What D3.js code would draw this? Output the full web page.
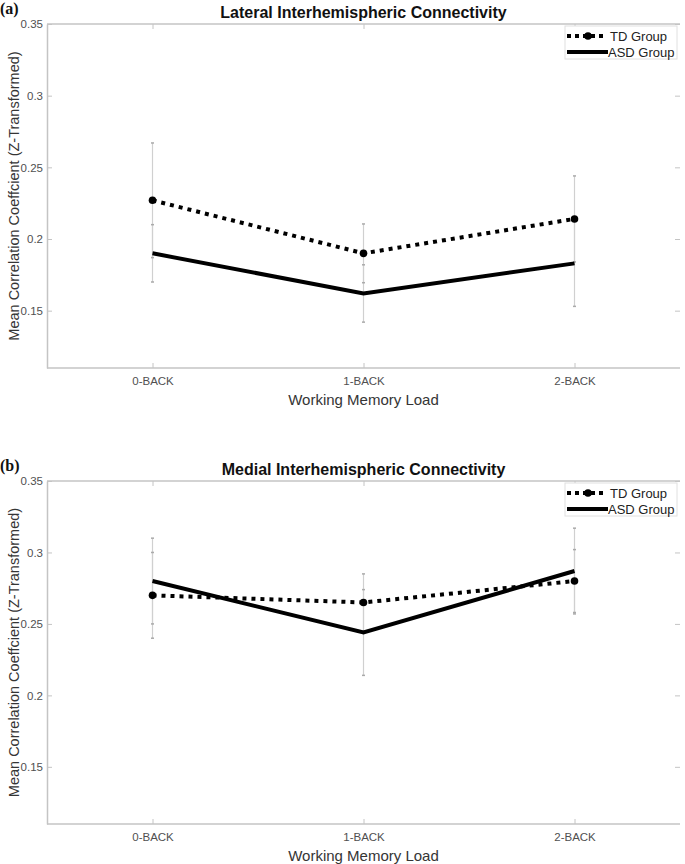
<!DOCTYPE html>
<html><head><meta charset="utf-8">
<script src="https://cdn.jsdelivr.net/npm/d3@7"></script>
<style>body{margin:0;background:#fff;}svg{display:block;font-family:Arial,"Liberation Sans",sans-serif;}</style>
</head><body>
<svg id="chart" width="685" height="864"></svg>
<script>
const categories = ["0-BACK", "1-BACK", "2-BACK"];
const yTicks = [0.15, 0.2, 0.25, 0.3, 0.35];
const yTickLabels = ["0.15", "0.2", "0.25", "0.3", "0.35"];
const seriesNames = ["TD Group", "ASD Group"];
const panelTitles = ["Lateral Interhemispheric Connectivity", "Medial Interhemispheric Connectivity"];
const panelLabels = ["(a)", "(b)"];
const lateralTD = [0.227, 0.190, 0.214];
const lateralTDErr = [0.040, 0.0205, 0.030];
const lateralASD = [0.190, 0.162, 0.183];
const lateralASDErr = [0.020, 0.020, 0.030];
const medialTD = [0.270, 0.265, 0.280];
const medialTDErr = [0.030, 0.020, 0.022];
const medialASD = [0.280, 0.244, 0.287];
const medialASDErr = [0.030, 0.030, 0.030];

const panels = [
  {title: panelTitles[0], label: panelLabels[0], td: lateralTD, tdErr: lateralTDErr, asd: lateralASD, asdErr: lateralASDErr, top: 24, bottom: 368},
  {title: panelTitles[1], label: panelLabels[1], td: medialTD, tdErr: medialTDErr, asd: medialASD, asdErr: medialASDErr, top: 481, bottom: 824}
];

const svg = d3.select("#chart");
const left = 47, right = 680;
const axisCol = "#c4c4c4", tickTextCol = "#505050", labelCol = "#353535";

const x = d3.scalePoint().domain(categories).range([left, right]).padding(0.5);

panels.forEach(p => {
  const y = d3.scaleLinear().domain([0.11, 0.35]).range([p.bottom, p.top]);
  const g = svg.append("g");

  g.append("text").attr("x", 0).attr("y", p.top - 10)
    .attr("font-family", "'Liberation Serif','Times New Roman',serif")
    .attr("font-weight", "bold").attr("font-size", 16).attr("fill", "#111").text(p.label);

  g.append("text").attr("x", (left + right) / 2).attr("y", p.top - 6)
    .attr("text-anchor", "middle").attr("font-weight", "bold").attr("font-size", 16)
    .attr("fill", "#111").text(p.title);

  const yAxis = d3.axisLeft(y).tickValues(yTicks).tickFormat((d, i) => yTickLabels[i]).tickSizeInner(-5).tickSizeOuter(0).tickPadding(4);
  const ya = g.append("g").attr("transform", `translate(${left},0)`).call(yAxis);
  ya.select(".domain").attr("stroke", axisCol).attr("stroke-width", 1.5);
  ya.selectAll(".tick line").attr("stroke", axisCol);
  ya.selectAll(".tick text").attr("fill", tickTextCol).attr("font-size", 11.5).attr("font-family", "Arial,'Liberation Sans',sans-serif");

  const yAxisR = d3.axisRight(y).tickValues(yTicks).tickFormat("").tickSizeInner(-5).tickSizeOuter(0);
  const yr = g.append("g").attr("transform", `translate(${right},0)`).call(yAxisR);
  yr.select(".domain").remove();
  yr.selectAll(".tick line").attr("stroke", axisCol);

  const xAxis = d3.axisBottom(x).tickSizeInner(-5).tickSizeOuter(0).tickPadding(9);
  const xa = g.append("g").attr("transform", `translate(0,${p.bottom})`).call(xAxis);
  xa.select(".domain").attr("stroke", axisCol).attr("stroke-width", 1.5).attr("d", `M${left},0H${right}`);
  xa.selectAll(".tick line").attr("stroke", axisCol);
  xa.selectAll(".tick text").attr("fill", tickTextCol).attr("font-size", 11.5).attr("font-family", "Arial,'Liberation Sans',sans-serif");

  const xAxisT = d3.axisTop(x).tickFormat("").tickSizeInner(-5).tickSizeOuter(0);
  const xt = g.append("g").attr("transform", `translate(0,${p.top})`).call(xAxisT);
  xt.select(".domain").attr("stroke", axisCol).attr("stroke-width", 1.5).attr("d", `M${left},0H${right}`);
  xt.selectAll(".tick line").attr("stroke", axisCol);

  g.append("text").attr("transform", `translate(19,${(p.top + p.bottom) / 2}) rotate(-90)`)
    .attr("text-anchor", "middle").attr("font-size", 14.5).attr("fill", labelCol)
    .text("Mean Correlation Coeffcient (Z-Transformed)");
  g.append("text").attr("x", (left + right) / 2).attr("y", p.bottom + 37)
    .attr("text-anchor", "middle").attr("font-size", 15).attr("fill", labelCol)
    .text("Working Memory Load");

  const errs = [];
  categories.forEach((c, i) => {
    errs.push({c, v: p.td[i], e: p.tdErr[i]});
    errs.push({c, v: p.asd[i], e: p.asdErr[i]});
  });
  const eg = g.append("g");
  eg.selectAll("line.eb").data(errs).join("line")
    .attr("x1", d => x(d.c)).attr("x2", d => x(d.c))
    .attr("y1", d => y(d.v + d.e)).attr("y2", d => y(d.v - d.e))
    .attr("stroke", "#d0d0d0").attr("stroke-width", 1.2);
  eg.selectAll("line.capT").data(errs).join("line")
    .attr("x1", d => x(d.c) - 1.5).attr("x2", d => x(d.c) + 1.5)
    .attr("y1", d => y(d.v + d.e)).attr("y2", d => y(d.v + d.e))
    .attr("stroke", "#aaa").attr("stroke-width", 1.5);
  eg.selectAll("line.capB").data(errs).join("line")
    .attr("x1", d => x(d.c) - 1.5).attr("x2", d => x(d.c) + 1.5)
    .attr("y1", d => y(d.v - d.e)).attr("y2", d => y(d.v - d.e))
    .attr("stroke", "#aaa").attr("stroke-width", 1.5);

  const line = d3.line().x((d, i) => x(categories[i])).y(d => y(d));

  g.append("path").datum(p.asd).attr("d", line).attr("fill", "none")
    .attr("stroke", "#000").attr("stroke-width", 4);
  g.append("path").datum(p.td).attr("d", line).attr("fill", "none")
    .attr("stroke", "#000").attr("stroke-width", 4).attr("stroke-dasharray", "4,5");
  g.selectAll("circle.td").data(p.td).join("circle")
    .attr("cx", (d, i) => x(categories[i])).attr("cy", d => y(d)).attr("r", 3.8).attr("fill", "#000");

  const lx = 565, ly = p.top + 2;
  const lg = g.append("g");
  lg.append("rect").attr("x", lx).attr("y", ly).attr("width", 112).attr("height", 33)
    .attr("fill", "#fff").attr("stroke", "#e0e0e0").attr("stroke-width", 1);
  const r1 = ly + 10, r2 = ly + 26;
  lg.append("line").attr("x1", lx + 2).attr("x2", lx + 42).attr("y1", r1).attr("y2", r1)
    .attr("stroke", "#000").attr("stroke-width", 4).attr("stroke-dasharray", "4,4");
  lg.append("circle").attr("cx", lx + 23).attr("cy", r1).attr("r", 3.8).attr("fill", "#000");
  lg.append("line").attr("x1", lx + 2).attr("x2", lx + 43).attr("y1", r2).attr("y2", r2)
    .attr("stroke", "#000").attr("stroke-width", 4);
  lg.append("text").attr("x", lx + 45).attr("y", r1 + 4.5).attr("font-size", 13).attr("fill", "#222").text(seriesNames[0]);
  lg.append("text").attr("x", lx + 43).attr("y", r2 + 4.5).attr("font-size", 13).attr("fill", "#222").text(seriesNames[1]);
});
</script>
</body></html>
